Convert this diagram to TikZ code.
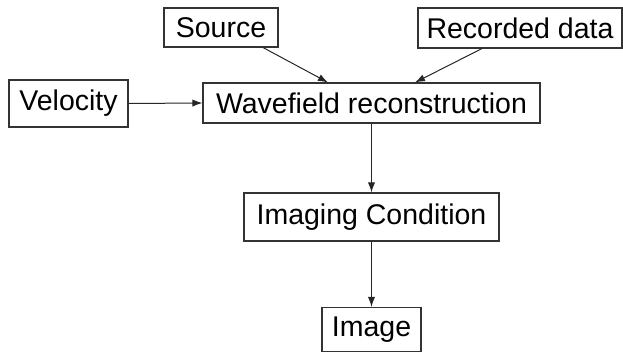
\documentclass[tikz,border=0pt]{standalone}
\usepackage{fontspec}
\setmainfont{Liberation Sans}
\usetikzlibrary{arrows.meta}
\begin{document}
\begin{tikzpicture}[x=0.5pt,y=-0.5pt,
  box/.style={draw=black!80,line width=0.55pt,inner sep=0pt,font=\fontsize{14.25}{16}\selectfont},
  conn/.style={draw=black!85,line width=0.5pt,-{Latex[length=5pt,width=3.6pt]}}]
\useasboundingbox (0,0) rectangle (623,352);
\node[box,minimum width=57pt,minimum height=19.5pt] (src) at (221,27.5) {Source};
\node[box,minimum width=102pt,minimum height=20pt] (rec) at (520,28) {Recorded data};
\node[box,minimum width=59.5pt,minimum height=23.5pt] (vel) at (68.5,103.5) {Velocity};
\node[box,minimum width=168.5pt,minimum height=20pt] (wave) at (371.5,103) {Wavefield reconstruction};
\node[box,minimum width=127.5pt,minimum height=24pt] (imc) at (371.5,217) {Imaging Condition};
\node[box,minimum width=49.5pt,minimum height=22pt] (img) at (371.5,329.5) {Image};
\draw[conn] ([xshift=21pt]src.south) -- ([xshift=-21.75pt]wave.north);
\draw[conn] ([xshift=-19pt]rec.south) -- ([xshift=21.75pt]wave.north);
\draw[conn] (vel.east) -- (wave.west);
\draw[conn] (wave.south) -- (imc.north);
\draw[conn] (imc.south) -- (img.north);
\end{tikzpicture}
\end{document}
